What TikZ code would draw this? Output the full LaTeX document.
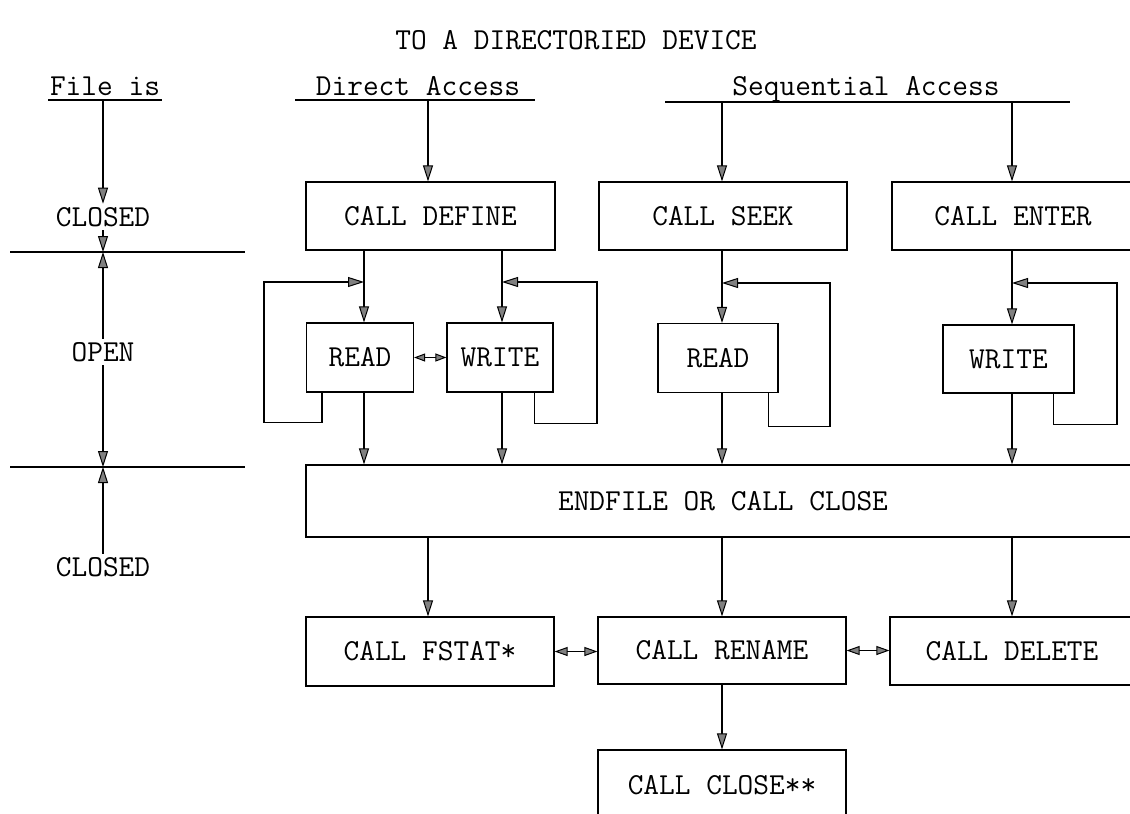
\documentclass[tikz,border=0pt]{standalone}
\usepackage{fontspec}
\usetikzlibrary{arrows.meta,calc}
\begin{document}
\begin{tikzpicture}[x=1pt,y=-1pt,
  line width=1.2pt,
  every node/.style={font=\ttfamily\fontsize{30.5}{34}\selectfont, inner sep=3pt},
  box/.style={draw, rectangle, inner sep=0pt},
  arr/.style={-{Triangle[length=16pt,width=10pt,fill=black!50,line width=1pt]}},
  dbl/.style={{Triangle[length=13pt,width=9pt,fill=black!50,line width=1pt]}-{Triangle[length=13pt,width=9pt,fill=black!50,line width=1pt]}},
  sdbl/.style={{Triangle[length=11pt,width=8pt,fill=black!50,line width=1pt]}-{Triangle[length=11pt,width=8pt,fill=black!50,line width=1pt]}}]
\useasboundingbox (0,0) rectangle (1130,814);
\clip (0,0) rectangle (1130,814);

% title and headers
\node (title) at (576,40) {TO A DIRECTORIED DEVICE};
\node[anchor=base] (fileis) at (105,95) {File is};
\node[anchor=base] (direct) at (418,95) {Direct Access};
\node[anchor=base] (seq) at (866,95) {Sequential Access};
\draw (48,100) -- (162,100);
\draw (295,100) -- (535,100);
\draw (665,102) -- (1070,102);
\coordinate (fa) at (103,100);
\coordinate (da) at (428,100);
\coordinate (sa) at (722,102);
\coordinate (sb) at (1012,102);

% left column
\node (cl1) at (103,217) {CLOSED};
\node (open) at (103,352) {OPEN};
\node (cl2) at (103,567) {CLOSED};
\coordinate (h1) at (103,252);
\coordinate (h2) at (103,467);
\draw (10,252) -- (245,252);
\draw (10,467) -- (245,467);
\draw[arr] (fa) -- (cl1.north);
\draw[arr] (cl1.south) -- (h1);
\draw[arr] (open.north) -- (h1);
\draw[arr] (open.south) -- (h2);
\draw[arr] (cl2.north) -- (h2);

% boxes
\node[box,minimum width=249pt,minimum height=68pt] (define) at (430.5,216) {CALL DEFINE};
\node[box,minimum width=248pt,minimum height=68pt] (seek) at (723,216) {CALL SEEK};
\node[box,minimum width=242pt,minimum height=68pt] (enter) at (1013,216) {CALL ENTER};
\node[box,minimum width=107pt,minimum height=69pt] (readA) at (360,357.5) {READ};
\node[box,minimum width=106pt,minimum height=69pt] (writeA) at (500,357.5) {WRITE};
\node[box,minimum width=120pt,minimum height=69pt] (readB) at (718,358) {READ};
\node[box,minimum width=131pt,minimum height=68pt] (writeB) at (1008.5,359) {WRITE};
\node[box,minimum width=834pt,minimum height=72pt] (endf) at (723,501) {ENDFILE OR CALL CLOSE};
\node[box,minimum width=248pt,minimum height=69pt] (fstat) at (430,651.5) {CALL FSTAT*};
\node[box,minimum width=248pt,minimum height=67pt] (rename) at (722,650.5) {CALL RENAME};
\node[box,minimum width=244pt,minimum height=68pt] (delete) at (1012,651) {CALL DELETE};
\node[box,minimum width=248pt,minimum height=70pt] (close) at (722,785) {CALL CLOSE**};

% column coordinates
\coordinate (cA) at (428,0);
\coordinate (cB) at (722,0);
\coordinate (cC) at (1012,0);
\coordinate (cR) at (364,0);
\coordinate (cW) at (502,0);

% header arrows
\draw[arr] (da) -- (da |- define.north);
\draw[arr] (sa) -- (sa |- seek.north);
\draw[arr] (sb) -- (sb |- enter.north);

% into read/write
\draw[arr] (define.south -| cR) -- (readA.north -| cR);
\draw[arr] (define.south -| cW) -- (writeA.north -| cW);
\draw[arr] (seek.south -| cB) -- (readB.north -| cB);
\draw[arr] (enter.south -| cC) -- (writeB.north -| cC);

% loops
\coordinate (lA) at (364,282);
\coordinate (lW) at (502,282);
\coordinate (lB) at (722,283);
\coordinate (lC) at (1012,283);
\draw[arr] ($(readA.south west)+(16,0)$) -- ++(0,30) -| (264,282) -- (lA);
\draw[arr] ($(writeA.south east)+(-19,0)$) -- ++(0,31) -| (597,282) -- (lW);
\draw[arr] ($(readB.south east)+(-10,0)$) -- ++(0,33) -| (830,283) -- (lB);
\draw[arr] ($(writeB.south east)+(-21,0)$) -- ++(0,31) -| (1117,283) -- (lC);

\draw[sdbl] (readA.east) -- (readA.east -| writeA.west);

% into endfile
\draw[arr] (readA.south -| cR) -- (endf.north -| cR);
\draw[arr] (writeA.south -| cW) -- (endf.north -| cW);
\draw[arr] (readB.south -| cB) -- (endf.north -| cB);
\draw[arr] (writeB.south -| cC) -- (endf.north -| cC);

% out of endfile
\draw[arr] (endf.south -| cA) -- (fstat.north -| cA);
\draw[arr] (endf.south -| cB) -- (rename.north -| cB);
\draw[arr] (endf.south -| cC) -- (delete.north -| cC);

\draw[dbl] (fstat.east) -- (fstat.east -| rename.west);
\draw[dbl] (rename.east) -- (rename.east -| delete.west);
\draw[arr] (rename.south -| cB) -- (close.north -| cB);
\end{tikzpicture}
\end{document}
